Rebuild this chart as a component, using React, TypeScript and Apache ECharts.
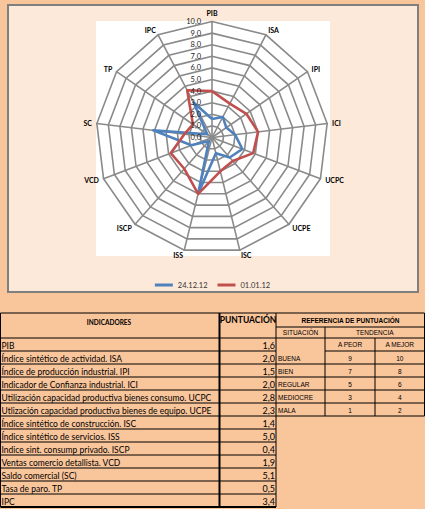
import React, { useEffect, useRef } from 'react';
import * as echarts from 'echarts';

const indicatorNames = ['PIB', 'ISA', 'IPI', 'ICI', 'UCPC', 'UCPE', 'ISC', 'ISS', 'ISCP', 'VCD', 'SC', 'TP', 'IPC'];
const values241212 = [1.6, 2.0, 1.5, 2.0, 2.8, 2.3, 1.4, 5.0, 0.4, 1.9, 5.1, 0.5, 3.4];
const values010112 = [4.0, 3.3, 3.6, 4.0, 3.8, 2.7, 3.0, 5.0, 3.6, 3.8, 2.4, 2.0, 4.6];
const seriesNames = ['24.12.12', '01.01.12'];
const seriesColors = ['#4F81BD', '#C0504D'];

const tableIndicators = [
  'PIB',
  'Índice sintético de actividad. ISA',
  'Índice de producción industrial. IPI',
  'Indicador de Confianza industrial. ICI',
  'Utilización capacidad productiva bienes consumo. UCPC',
  'Utlización capacidad productiva bienes de equipo. UCPE',
  'Índice sintético de construcción. ISC',
  'Índice sintético de servicios. ISS',
  'Indice sint. consump privado. ISCP',
  'Ventas comercio detallista. VCD',
  'Saldo comercial (SC)',
  'Tasa de paro. TP',
  'IPC',
];
const tableScores = ['1,6', '2,0', '1,5', '2,0', '2,8', '2,3', '1,4', '5,0', '0,4', '1,9', '5,1', '0,5', '3,4'];
const situations = ['BUENA', 'BIEN', 'REGULAR', 'MEDIOCRE', 'MALA'];
const scoreWorse = ['9', '7', '5', '3', '1'];
const scoreBetter = ['10', '8', '6', '4', '2'];

const PAGE_BG = '#F9C59B';
const BOX_BG = '#FDE9D9';
const FONT = 'Lato, "Noto Sans", sans-serif';
const ARIAL = '"Liberation Sans", Arial, sans-serif';

function buildTable() {
  const els: any[] = [];
  const line = (x1: number, y1: number, x2: number, y2: number, w = 1) =>
    els.push({ type: 'line', shape: { x1, y1, x2, y2 }, style: { stroke: '#000', lineWidth: w }, z: 1 });
  const text = (t: string, x: number, y: number, o: any = {}) =>
    els.push({
      type: 'text', x, y, z: 2,
      style: { text: t, fill: '#000', fontFamily: FONT, fontSize: 8.5, align: 'left', verticalAlign: 'middle', ...o },
    });

  const top = 313;
  const headBottom = 338;
  const rowH = 13;
  const c0 = 0.5, c1 = 219.5, c2 = 276, c3 = 325, c4 = 375, c5 = 424.5;

  // left table
  line(c0, top, c2, top);
  line(c0, headBottom, c2, headBottom);
  for (let i = 1; i <= tableIndicators.length; i++) {
    const y = headBottom + rowH * i;
    line(c0, y, c2, y, i === tableIndicators.length ? 2 : 1);
  }
  const bottom = headBottom + rowH * tableIndicators.length;
  line(c0, top, c0, bottom);
  line(c1, top, c1, bottom, 2);
  line(c2, top, c2, bottom);

  text('INDICADORES', 109, 322, { align: 'center', fontWeight: 'bold', fontSize: 6.5 });
  text('PUNTUACIÓN', 248, 319.5, { align: 'center', fontWeight: 'bold', fontSize: 8.5 });
  tableIndicators.forEach((t, i) => {
    const y = headBottom + rowH * i + 7.5;
    text(t, 1.5, y);
    text(tableScores[i], 275, y, { align: 'right', fontSize: 9 });
  });

  // reference table
  const r1 = 327, r2 = 338, r3 = 351;
  line(c2, top, c5, top);
  line(c2, r1, c5, r1);
  line(c2, r2, c5, r2);
  line(c3, r3, c5, r3);
  for (let i = 1; i <= situations.length; i++) line(c2, r3 + rowH * i, c5, r3 + rowH * i);
  const refBottom = r3 + rowH * situations.length;
  line(c3, r1, c3, refBottom);
  line(c4, r2, c4, refBottom);
  line(c5, top, c5, refBottom);

  const small = { fontFamily: ARIAL, fontSize: 6.5, align: 'center' };
  text('REFERENCIA DE PUNTUACIÓN', 350.5, 320, { ...small, fontWeight: 'bold' });
  text('SITUACIÓN', (c2 + c3) / 2, 332.5, small);
  text('TENDENCIA', (c3 + c5) / 2, 332.5, small);
  text('A PEOR', (c3 + c4) / 2, 344.5, small);
  text('A MEJOR', (c4 + c5) / 2, 344.5, small);
  situations.forEach((s, i) => {
    const y = r3 + rowH * i + 7.5;
    text(s, 278, y, { ...small, align: 'left' });
    text(scoreWorse[i], (c3 + c4) / 2, y, small);
    text(scoreBetter[i], (c4 + c5) / 2, y, small);
  });
  return els;
}

export default function App() {
  const ref = useRef<HTMLDivElement>(null);
  useEffect(() => {
    if (!ref.current) return;
    const chart = echarts.init(ref.current, undefined, { renderer: 'svg' });
    const center = [212, 137.5];
    const radius = 116;
    const order = [0, ...indicatorNames.map((_, i) => i).slice(1).reverse()];
    const reorder = (arr: number[]) => order.map((i) => arr[i]);
    const gray = '#8A8A8A';

    chart.setOption({
      animation: false,
      backgroundColor: PAGE_BG,
      legend: {
        data: seriesNames,
        top: 276,
        left: 'center',
        icon: 'rect',
        itemWidth: 18,
        itemHeight: 3,
        itemGap: 10,
        textStyle: { fontSize: 7.5, color: '#333', fontFamily: FONT },
      },
      radar: {
        center,
        radius,
        startAngle: 90,
        shape: 'polygon',
        splitNumber: 10,
        indicator: order.map((i) => ({ name: indicatorNames[i], min: 0, max: 10 })),
        axisName: { color: '#000', fontSize: 7, fontWeight: 'bold', fontFamily: FONT },
        nameGap: 5,
        axisLine: { lineStyle: { color: gray, width: 1.6 } },
        splitLine: { lineStyle: { color: gray, width: 1.6 } },
        splitArea: { show: false },
        axisTick: { show: false },
        axisLabel: { show: false },
      },
      polar: { center, radius },
      angleAxis: { show: false, startAngle: 90, min: 0, max: 360 },
      radiusAxis: {
        min: 0,
        max: 10,
        interval: 1,
        axisLine: { show: false },
        axisTick: { show: false },
        splitLine: { show: false },
        axisLabel: {
          fontSize: 7.5,
          color: '#222',
          fontFamily: FONT,
          align: 'right',
          verticalAlign: 'middle',
          padding: [0, 3, 0, 0],
          formatter: (v: number) => v.toFixed(1).replace('.', ','),
        },
        z: 5,
      },
      graphic: {
        elements: [
          { type: 'rect', shape: { x: 8, y: 5, width: 410, height: 287 }, style: { fill: BOX_BG, stroke: '#7F7F7F', lineWidth: 2 }, z: -10 },
          { type: 'rect', shape: { x: 96, y: 21, width: 234, height: 235 }, style: { fill: '#FFFFFF' }, z: -9 },
          ...buildTable(),
        ],
      },
      series: [
        {
          type: 'radar',
          symbol: 'none',
          z: 3,
          data: [
            { name: seriesNames[0], value: reorder(values241212), lineStyle: { color: seriesColors[0], width: 2.6 }, itemStyle: { color: seriesColors[0] } },
            { name: seriesNames[1], value: reorder(values010112), lineStyle: { color: seriesColors[1], width: 2.6 }, itemStyle: { color: seriesColors[1] } },
          ],
        },
      ],
    });
    return () => chart.dispose();
  }, []);
  return <div ref={ref} style={{ position: 'fixed', left: 0, top: 0, width: 425, height: 509 }} />;
}
